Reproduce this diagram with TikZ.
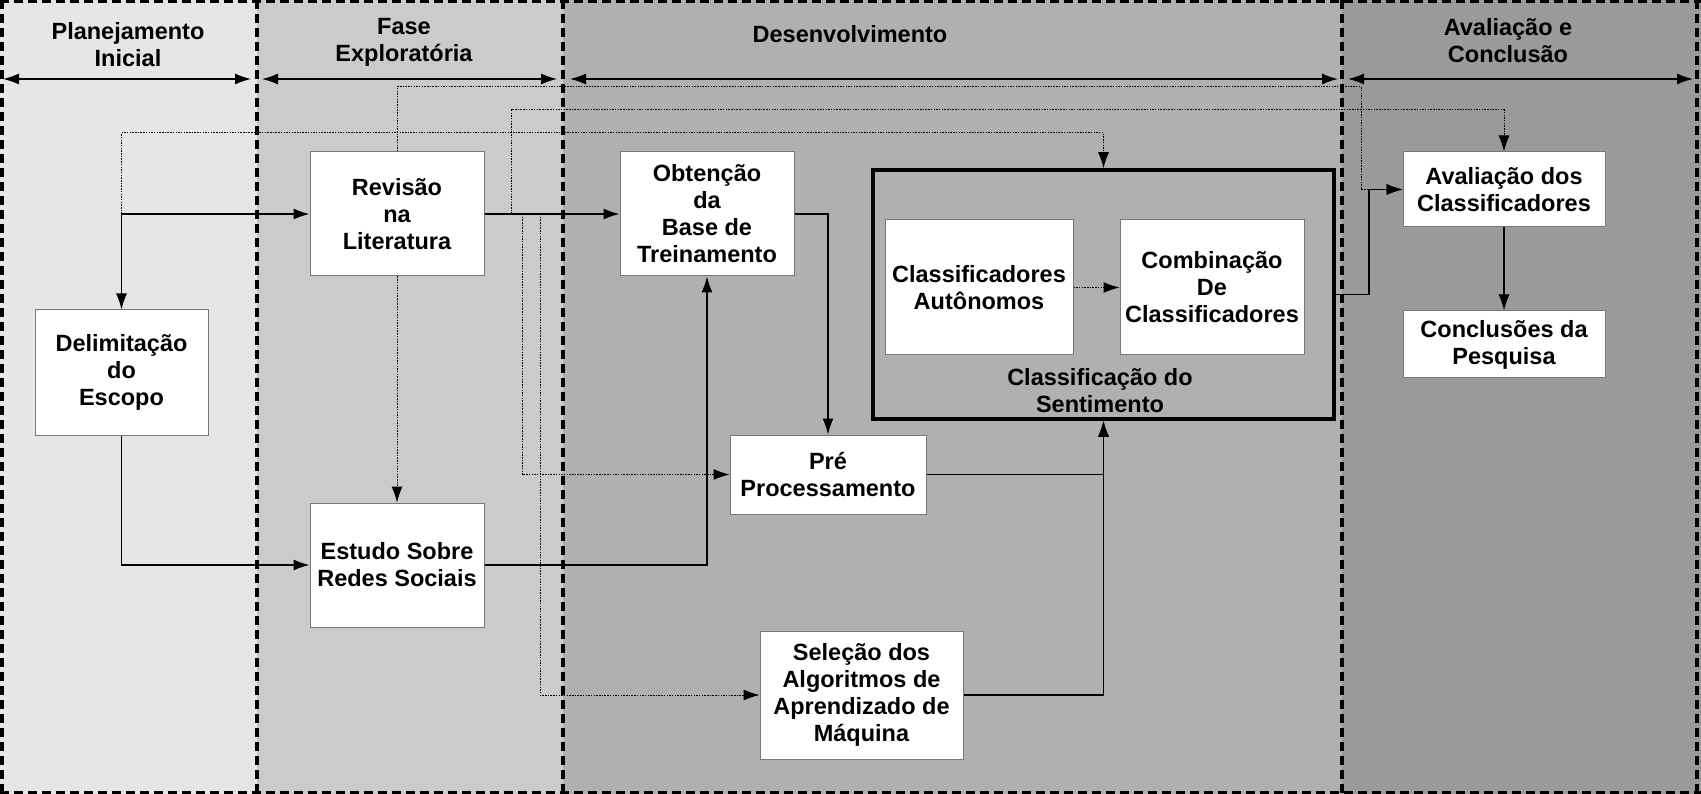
\documentclass[tikz,border=0pt]{standalone}
\usepackage{fontspec}
\setmainfont{Liberation Sans}
\usetikzlibrary{arrows.meta,positioning,calc}
\definecolor{bandA}{RGB}{230,230,230}
\definecolor{bandB}{RGB}{203,203,203}
\definecolor{bandC}{RGB}{176,176,176}
\definecolor{bandD}{RGB}{154,154,154}
\definecolor{boxline}{RGB}{120,120,120}
\tikzset{
  txt/.style={font=\bfseries\fontsize{23.5}{27}\selectfont, align=center, inner sep=0pt},
  stepbox/.style={txt, draw=boxline, line width=1pt, fill=white},
  conn/.style={line width=1.3pt, -{Latex[length=16pt,width=11pt]}},
  dconn/.style={line width=1pt, dash pattern=on 1.5pt off 1.2pt, -{Latex[length=16pt,width=11pt]}},
  phasearrow/.style={line width=1.3pt, {Latex[length=16pt,width=11pt]}-{Latex[length=16pt,width=11pt]}},
  border/.style={line width=3.5pt, dash pattern=on 9pt off 5pt},
}
\begin{document}
\begin{tikzpicture}[x=1pt,y=-1pt]
\useasboundingbox (0,0) rectangle (1701,794);
% bands
\fill[bandA] (0,0) rectangle (257,794);
\fill[bandB] (257,0) rectangle (563,794);
\fill[bandC] (563,0) rectangle (1342,794);
\fill[bandD] (1342,0) rectangle (1701,794);
% borders
\draw[border] (1.75,0) -- (1.75,794);
\draw[border] (257,0) -- (257,794);
\draw[border] (563,0) -- (563,794);
\draw[border] (1342,0) -- (1342,794);
\draw[border] (1697,0) -- (1697,794);
\draw[border] (0,1.75) -- (1701,1.75);
\draw[border] (0,792.25) -- (1701,792.25);
% titles
\node[txt] (t1) at (128,44.5) {Planejamento\\Inicial};
\node[txt] (t2) at (404,42) {Fase\\Exploratória};
\node[txt] (t3) at (850,34) {Desenvolvimento};
\node[txt] (t4) at (1508,41) {Avaliação e\\Conclusão};
% phase arrows
\coordinate (p1a) at (3,79); \coordinate (p1b) at (251,79);
\coordinate (p2a) at (262,79); \coordinate (p2b) at (557,79);
\coordinate (p3a) at (570,79); \coordinate (p3b) at (1338,79);
\coordinate (p4a) at (1348,79); \coordinate (p4b) at (1693,79);
\draw[phasearrow] (p1a) -- (p1b);
\draw[phasearrow] (p2a) -- (p2b);
\draw[phasearrow] (p3a) -- (p3b);
\draw[phasearrow] (p4a) -- (p4b);
% boxes
\node[stepbox, minimum width=174pt, minimum height=124pt] (rev) at (397,214) {Revisão\\na\\Literatura};
\node[stepbox, minimum width=173pt, minimum height=125pt] (del) at (121.5,372.5) {Delimitação\\do\\Escopo};
\node[stepbox, minimum width=174pt, minimum height=124pt] (est) at (397,565) {Estudo Sobre\\Redes Sociais};
\node[stepbox, minimum width=174pt, minimum height=124pt] (obt) at (707,214) {Obtenção\\da\\Base de\\Treinamento};
\node[stepbox, minimum width=196pt, minimum height=79pt] (pre) at (828,474.5) {Pré\\Processamento};
\node[stepbox, minimum width=203pt, minimum height=128pt] (sel) at (861.5,695) {Seleção dos\\Algoritmos de\\Aprendizado de\\Máquina};
\node[draw=black, line width=3.5pt, minimum width=461pt, minimum height=249pt, inner sep=0pt] (cls) at (1103.5,294.5) {};
\node[stepbox, minimum width=188pt, minimum height=135pt] (aut) at (979,287.5) {Classificadores\\Autônomos};
\node[stepbox, minimum width=184pt, minimum height=135pt] (comb) at (1212,287.5) {Combinação\\De\\Classificadores};
\node[txt] (clslabel) at (1100,391) {Classificação do\\Sentimento};
\node[stepbox, minimum width=202pt, minimum height=75pt] (ava) at (1504,189.5) {Avaliação dos\\Classificadores};
\node[stepbox, minimum width=202pt, minimum height=67pt] (conc) at (1504,344.5) {Conclusões da\\Pesquisa};
% helper coordinates
\coordinate (j1) at (del.north |- rev.west);
\coordinate (ytopA) at (0,133);
\coordinate (ytopB) at (0,110);
\coordinate (ytopC) at (0,87);
\coordinate (b1) at (511,214);
\coordinate (b2) at (522,214);
\coordinate (b3) at (540,214);
\coordinate (c1) at (1361,0);
\coordinate (c2) at (1369,0);
% dotted connectors
\draw[dconn] (j1) -- (j1 |- ytopA) -| (cls.north);
\draw[dconn] (b1) -- (b1 |- ytopB) -| (ava.north);
\draw[dconn] (b2) |- (pre.west);
\draw[dconn] (b3) |- (sel.west);
\draw[dconn] (rev.north) -- (rev.north |- ytopC) -| (c1 |- ava.west) -- (ava.west);
\draw[dconn] (rev.south) -- (est.north);
\draw[dconn] (aut.east) -- (comb.west);
% solid connectors
\draw[conn] (j1) -- (rev.west);
\draw[conn] (j1) -- (del.north);
\draw[conn] (del.south) |- (est.west);
\draw[conn] (rev.east) -- (obt.west);
\draw[conn] (obt.east) -| (pre.north);
\draw[conn] (est.east) -| (obt.south);
\draw[conn] (pre.east) -| (cls.south);
\draw[conn] (sel.east) -| (cls.south);
\draw[conn] (cls.east) -- (cls.east -| c2) |- (ava.west);
\draw[conn] (ava.south) -- (conc.north);
\end{tikzpicture}
\end{document}
